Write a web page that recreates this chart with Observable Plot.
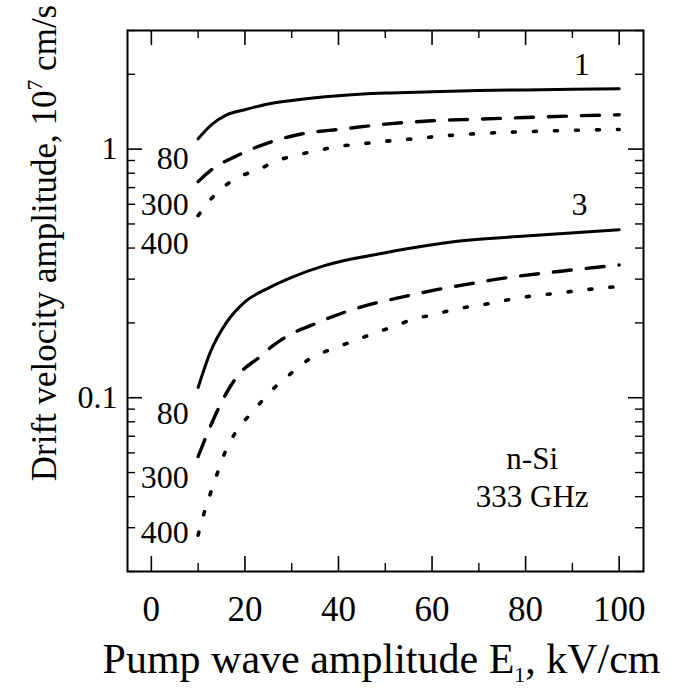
<!DOCTYPE html>
<html>
<head>
<meta charset="utf-8">
<script src="https://cdn.jsdelivr.net/npm/d3@7"></script>
<script src="https://cdn.jsdelivr.net/npm/@observablehq/plot@0.6"></script>
<style>
  html, body { margin: 0; padding: 0; background: #fff; }
  #chart svg { display: block; font-family: "Liberation Serif", "Times New Roman", serif; }
</style>
</head>
<body>
<div id="chart"></div>
<script>
// ---- data ----
// Curve family "1"
const E_1_80  = [10, 13, 16, 20, 25, 30, 40, 50, 60, 70, 80, 90, 100];
const v_1_80  = [1.10, 1.26, 1.37, 1.44, 1.52, 1.57, 1.64, 1.68, 1.70, 1.72, 1.73, 1.74, 1.75];
const E_1_300 = [10, 13, 18, 25, 32, 40, 50, 60, 70, 80, 90, 100];
const v_1_300 = [0.74, 0.83, 0.935, 1.06, 1.15, 1.20, 1.26, 1.30, 1.32, 1.34, 1.36, 1.375];
const E_1_400 = [10, 14, 18, 23, 27, 31.5, 36, 40, 45, 50, 55, 60, 65, 70, 80, 90, 100];
const v_1_400 = [0.54, 0.667, 0.76, 0.83, 0.90, 0.95, 0.99, 1.025, 1.05, 1.075, 1.095, 1.12, 1.14, 1.155, 1.175, 1.19, 1.20];
// Curve family "3"
const E_3_80  = [10, 12.7, 16, 20, 25, 30, 37, 50, 65, 80, 100];
const v_3_80  = [0.11, 0.154, 0.20, 0.243, 0.276, 0.305, 0.34, 0.383, 0.425, 0.447, 0.474];
const E_3_300 = [10, 12, 14.4, 17, 19, 23, 26, 30, 34, 39, 46, 54, 61, 68, 75, 87, 100];
const v_3_300 = [0.058, 0.072, 0.091, 0.112, 0.126, 0.145, 0.162, 0.181, 0.195, 0.213, 0.235, 0.255, 0.272, 0.287, 0.302, 0.322, 0.342];
const E_3_400 = [10, 11, 12.4, 14, 15.7, 18, 21.7, 25.5, 30, 34, 38.6, 43, 47.4, 52, 56, 61, 65, 70, 74, 78, 88, 97, 100];
const v_3_400 = [0.028, 0.033, 0.040, 0.049, 0.060, 0.0726, 0.088, 0.106, 0.126, 0.144, 0.157, 0.1685, 0.181, 0.194, 0.207, 0.217, 0.2275, 0.235, 0.243, 0.251, 0.265, 0.277, 0.28];

// Curve labels at left of curve starts
const curveLabels = ["80", "300", "400", "80", "300", "400"];
const curveLabelY = [0.915, 0.598, 0.417, 0.0861, 0.0476, 0.0286];
const curveLabelX = [8, 8, 8, 8, 8, 8];
// Family labels
const familyLabels = ["1", "3"];
const familyLabelX = [92, 91.5];
const familyLabelY = [2.19, 0.60];
// Annotation
const noteLines = ["n-Si", "333 GHz"];
const noteX = [81.4, 81.4];
const noteY = [0.0567, 0.0399];

// Ticks
const xMajor = [0, 20, 40, 60, 80, 100];
const xMinor = [10, 30, 50, 70, 90];
const yMajor = [0.1, 1];
const yMajorLabels = ["0.1", "1"];
const yMinor = [0.02, 0.03, 0.04, 0.05, 0.06, 0.07, 0.08, 0.09, 0.2, 0.3, 0.4, 0.5, 0.6, 0.7, 0.8, 0.9, 2, 3];

const xTitle = "Pump wave amplitude E_{1}, kV/cm";
const yTitle = "Drift velocity amplitude, 10^{7} cm/s";

// ---- build ----
const rows = (E, v) => E.map((e, i) => ({E: e, v: v[i]}));
const W = 678, H = 693;
const mL = 127, mR = 35, mT = 30, mB = 122;
const fw = W - mL - mR, fh = H - mT - mB;
const majorLen = 15, minorLen = 8;
const font = "Liberation Serif, Times New Roman, serif";

const solid = {stroke: "black", strokeWidth: 3, curve: "monotone-x"};
const dashed = {stroke: "black", strokeWidth: 3.4, curve: "monotone-x", strokeDasharray: "18,15"};
const dotted = {stroke: "black", strokeWidth: 3.6, curve: "monotone-x", strokeDasharray: "3,18", strokeLinecap: "round"};

const chart = Plot.plot({
  width: W, height: H,
  marginLeft: mL, marginRight: mR, marginTop: mT, marginBottom: mB,
  style: {fontFamily: font, background: "white", color: "black"},
  x: {domain: [-5.1, 105.2], axis: null},
  y: {type: "log", domain: [0.02, 3], axis: null},
  marks: [
    // ticks, inward on all four sides
    Plot.tickX(xMajor, {x: d => d, insetTop: fh - majorLen, stroke: "black", strokeWidth: 1.6}),
    Plot.tickX(xMajor, {x: d => d, insetBottom: fh - majorLen, stroke: "black", strokeWidth: 1.6}),
    Plot.tickX(xMinor, {x: d => d, insetTop: fh - minorLen, stroke: "black", strokeWidth: 1.4}),
    Plot.tickX(xMinor, {x: d => d, insetBottom: fh - minorLen, stroke: "black", strokeWidth: 1.4}),
    Plot.tickY(yMajor, {y: d => d, insetRight: fw - majorLen, stroke: "black", strokeWidth: 1.6}),
    Plot.tickY(yMajor, {y: d => d, insetLeft: fw - majorLen, stroke: "black", strokeWidth: 1.6}),
    Plot.tickY(yMinor, {y: d => d, insetRight: fw - minorLen, stroke: "black", strokeWidth: 1.4}),
    Plot.tickY(yMinor, {y: d => d, insetLeft: fw - minorLen, stroke: "black", strokeWidth: 1.4}),
    // tick labels
    Plot.axisX({ticks: xMajor, tickSize: 0, tickPadding: 25, fontSize: 35, fill: "black", label: null, tickFormat: d => String(d)}),
    Plot.axisY({ticks: yMajor, tickSize: 0, tickPadding: 10, fontSize: 32, fill: "black", label: null, tickFormat: d => yMajorLabels[yMajor.indexOf(d)]}),
    // curves
    Plot.line(rows(E_1_80, v_1_80), {x: "E", y: "v", ...solid}),
    Plot.line(rows(E_1_300, v_1_300), {x: "E", y: "v", ...dashed}),
    Plot.line(rows(E_1_400, v_1_400), {x: "E", y: "v", ...dotted}),
    Plot.line(rows(E_3_80, v_3_80), {x: "E", y: "v", ...solid}),
    Plot.line(rows(E_3_300, v_3_300), {x: "E", y: "v", ...dashed}),
    Plot.line(rows(E_3_400, v_3_400), {x: "E", y: "v", ...dotted}),
    // labels
    Plot.text(curveLabels, {x: (d, i) => curveLabelX[i], y: (d, i) => curveLabelY[i], text: d => d, textAnchor: "end", fontSize: 32, fill: "black"}),
    Plot.text(familyLabels, {x: (d, i) => familyLabelX[i], y: (d, i) => familyLabelY[i], text: d => d, fontSize: 32, fill: "black"}),
    Plot.text(noteLines, {x: (d, i) => noteX[i], y: (d, i) => noteY[i], text: d => d, fontSize: 31, fill: "black"}),
    // axis titles
    Plot.text([xTitle], {frameAnchor: "bottom", dx: -4, dy: 88, textAnchor: "middle", lineAnchor: "middle", text: d => d, fontSize: 42, fill: "black"}),
    Plot.text([yTitle], {frameAnchor: "left", dx: -83, dy: -58, rotate: -90, textAnchor: "middle", lineAnchor: "middle", text: d => d, fontSize: 35, fill: "black"}),
    Plot.frame({stroke: "black", strokeWidth: 2})
  ]
});

// rich text: _{..} subscript, ^{..} superscript
chart.querySelectorAll("text").forEach(t => {
  const s = t.textContent;
  if (!/[_^]\{/.test(s)) return;
  const fs = parseFloat(t.getAttribute("font-size")) || 32;
  while (t.firstChild) t.removeChild(t.firstChild);
  const re = /([_^])\{([^}]*)\}/g;
  let last = 0, m, shift = 0;
  const add = (txt, dy, size) => {
    const sp = document.createElementNS("http://www.w3.org/2000/svg", "tspan");
    sp.textContent = txt;
    if (dy) sp.setAttribute("dy", dy);
    if (size) sp.setAttribute("font-size", size);
    t.appendChild(sp);
  };
  while ((m = re.exec(s))) {
    if (m.index > last) add(s.slice(last, m.index), shift ? -shift : 0, null);
    shift = m[1] === "_" ? 0.28 * fs : -0.42 * fs;
    add(m[2], shift, 0.68 * fs);
    last = re.lastIndex;
  }
  if (last < s.length) add(s.slice(last), shift ? -shift : 0, null);
});

document.getElementById("chart").appendChild(chart);
</script>
</body>
</html>
